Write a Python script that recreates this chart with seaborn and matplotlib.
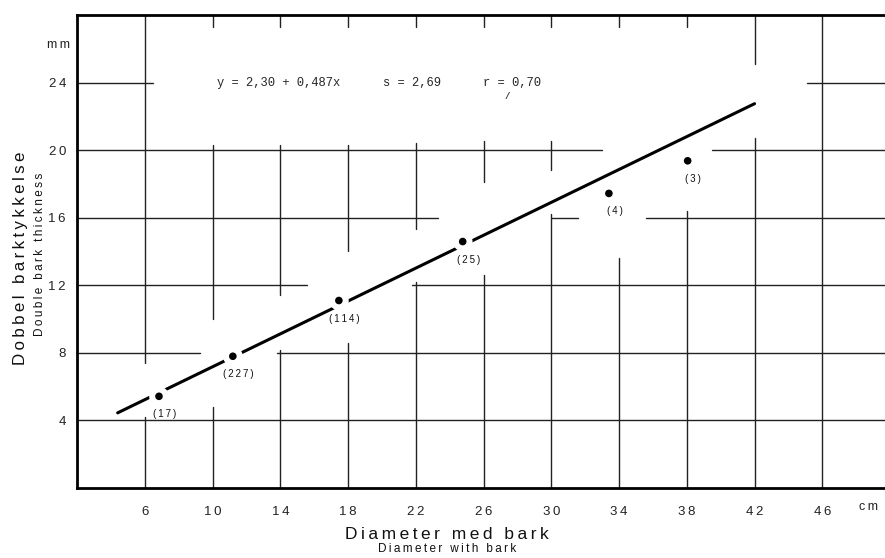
import matplotlib
matplotlib.use("Agg")
import matplotlib.pyplot as plt
import seaborn as sns
import pandas as pd

# ---- data ----
diameter_cm = [6.84, 11.2, 17.46, 24.77, 33.4, 38.05]
bark_mm = [5.43, 7.8, 11.1, 14.59, 17.44, 19.37]
counts = ["(17)", "(227)", "(114)", "(25)", "(4)", "(3)"]
line_x = [4.4, 42.0]
line_y = [4.45, 22.75]
x_ticks = [6, 10, 14, 18, 22, 26, 30, 34, 38, 42, 46]
y_ticks = [4, 8, 12, 16, 20, 24]
equation = "y = 2,30 + 0,487x"
s_text = "s = 2,69"
r_text = "r = 0,70"

# ---- layout: broken grid segments of the original drawing ----
h_segments = {24: [(2, 6.5), (45.1, 50)],
              20: [(2, 33.0), (39.5, 50)],
              16: [(2, 23.3), (30, 31.6), (35.6, 50)],
              12: [(2, 15.6), (21.8, 50)],
              8: [(2, 9.25), (13.8, 50)],
              4: [(2, 50)]}
v_segments = {6: [(7.4, 28), (0, 4.2)],
              10: [(10.0, 20.3), (0, 4.8), (27.3, 28)],
              14: [(11.4, 20.3), (0, 8.2), (27.3, 28)],
              18: [(14.05, 20.3), (0, 8.6), (27.3, 28)],
              22: [(15.35, 20.4), (0, 12.2), (27.3, 28)],
              26: [(18.1, 20.55), (0, 12.6), (27.3, 28)],
              30: [(18.8, 20.55), (0, 16.2), (27.3, 28)],
              34: [(0, 13.6), (27.3, 28)],
              38: [(0, 16.4), (27.3, 28)],
              42: [(25.1, 28), (0, 20.7)],
              46: [(0, 28)]}

sns.set_style("white")
plt.rcParams["font.family"] = ["Liberation Sans", "DejaVu Sans"]


def spaced(s):
    """Wide letter tracking like the typeset original."""
    return "\u2009".join(s)


fig = plt.figure(figsize=(8.85, 5.58), dpi=100)
ax = fig.add_axes([0.087, 0.1254, 0.913, 0.8477])
ax.set_xlim(2, 49.7)
ax.set_ylim(0, 28)

for yv, segs in h_segments.items():
    for a, b in segs:
        ax.plot([a, b], [yv, yv], color="#222222", lw=1.0, zorder=1)
for xv, segs in v_segments.items():
    for a, b in segs:
        ax.plot([xv, xv], [a, b], color="#222222", lw=1.0, zorder=1)

df_line = pd.DataFrame({"x": line_x, "y": line_y})
sns.lineplot(data=df_line, x="x", y="y", ax=ax, color="black", lw=2.2, zorder=3)

df = pd.DataFrame({"d": diameter_cm, "b": bark_mm, "n": counts})
# white halo that breaks the regression line around each point
sns.scatterplot(data=df, x="d", y="b", ax=ax, s=200, color="white",
                edgecolor="none", zorder=4)
sns.scatterplot(data=df, x="d", y="b", ax=ax, s=30, color="black",
                edgecolor="none", zorder=5)

for _, row in df.iterrows():
    ax.annotate(spaced(row["n"]), (row["d"], row["b"]), xytext=(4, -13),
                textcoords="offset points", ha="center", va="center",
                fontsize=7, color="#111111", zorder=6)

mono = ["Liberation Mono", "DejaVu Sans Mono"]
ax.text(13.9, 24.0, equation, family=mono, fontsize=8.7, va="center", ha="center")
ax.text(21.8, 24.0, s_text, family=mono, fontsize=8.7, va="center", ha="center")
ax.text(27.7, 24.0, r_text, family=mono, fontsize=8.7, va="center", ha="center")
ax.text(27.4, 23.15, "/", family=mono, fontsize=6.5, fontweight="bold",
        va="center", ha="center", color="#333333")

ax.set_xticks(x_ticks)
ax.set_xticklabels([spaced(str(t)) for t in x_ticks])
ax.set_yticks(y_ticks)
ax.set_yticklabels([spaced(str(t)) for t in y_ticks])
ax.tick_params(axis="x", direction="out", length=5, width=1, color="black",
               labelsize=9.5, pad=8, labelcolor="#222222")
ax.tick_params(axis="y", direction="out", length=3, width=1, color="black",
               labelsize=9.5, pad=5, labelcolor="#222222")
ax.set_xlabel("")
ax.set_ylabel("")

ax.text(48.7, -1.15, spaced("cm"), fontsize=9, ha="center", va="center",
        color="#222222", clip_on=False)
ax.text(0.88, 26.2, spaced("mm"), fontsize=9, ha="center", va="center",
        color="#222222", clip_on=False)

for side in ["left", "bottom", "top"]:
    ax.spines[side].set_linewidth(2.0)
    ax.spines[side].set_color("black")
ax.spines["right"].set_visible(False)

fig.text(0.505, 0.043, spaced("Diameter med bark"), fontsize=12.5, ha="center",
         va="center", color="#111111")
fig.text(0.505, 0.016, spaced("Diameter with bark"), fontsize=8.5, ha="center",
         va="center", color="#111111")
fig.text(0.023, 0.538, spaced("Dobbel barktykkelse"), fontsize=12.2, rotation=90,
         ha="center", va="center", color="#111111")
fig.text(0.045, 0.545, spaced("Double bark thickness"), fontsize=8.5, rotation=90,
         ha="center", va="center", color="#111111")

fig.savefig("out.png", dpi=100)
